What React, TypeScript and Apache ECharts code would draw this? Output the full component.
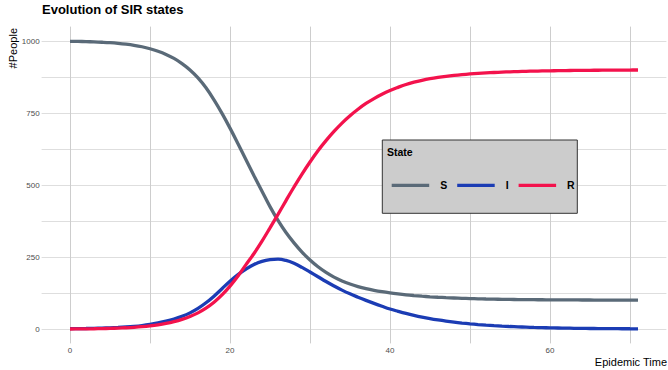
import React, { useEffect, useRef } from "react";
import * as echarts from "echarts";

const TIME = [0, 1, 2, 3, 4, 5, 6, 7, 8, 9, 10, 11, 12, 13, 14, 15, 16, 17, 18, 19, 20, 21, 22, 23, 24, 25, 26, 27, 28, 29, 30, 31, 32, 33, 34, 35, 36, 37, 38, 39, 40, 41, 42, 43, 44, 45, 46, 47, 48, 49, 50, 51, 52, 53, 54, 55, 56, 57, 58, 59, 60, 61, 62, 63, 64, 65, 66, 67, 68, 69, 70, 71];

const S_VALUES = [999, 998.5, 997.8, 996.9, 995.6, 994, 991.8, 988.9, 985.1, 980, 973.2, 964.5, 953.5, 939.5, 921.5, 899.5, 872, 837.5, 795.5, 748.5, 697.5, 643.5, 588, 532.5, 478.5, 425, 377, 335, 299, 267, 239.5, 216, 196.5, 180.2, 167, 156.2, 147.4, 140.2, 134.3, 129.4, 125.3, 121.8, 118.7, 116.1, 113.8, 111.9, 110.2, 108.8, 107.6, 106.5, 105.6, 104.8, 104.1, 103.6, 103.1, 102.7, 102.3, 102, 101.7, 101.5, 101.3, 101.1, 101, 100.85, 100.73, 100.63, 100.54, 100.46, 100.4, 100.34, 100.29, 100.25];

const I_VALUES = [1, 1.32, 1.74, 2.3, 3.03, 4, 5.3, 7, 9.2, 12.1, 16, 21, 27, 34.5, 44, 56, 71.5, 91, 114, 140, 166, 189, 208, 224, 235, 241, 242.5, 238, 228, 214, 198, 181.5, 165, 149.5, 135, 122, 110.5, 99.5, 89, 79, 69.5, 61.5, 54, 47.3, 41.3, 36, 31.4, 27.3, 23.7, 20.6, 17.9, 15.5, 13.4, 11.6, 10, 8.6, 7.4, 6.4, 5.5, 4.7, 4, 3.4, 2.9, 2.5, 2.1, 1.8, 1.55, 1.3, 1.1, 0.95, 0.8, 0.7];

const R_VALUES = [0, 0.23, 0.53, 0.93, 1.46, 2.16, 3.06, 4.26, 5.86, 7.96, 10.8, 14.5, 19.3, 25.5, 33.4, 43.4, 56.1, 72.3, 92.8, 118.2, 148.8, 184, 223.5, 262, 305, 351, 398, 446, 493, 538, 580, 619, 654, 686, 715, 740.5, 763, 783, 800, 815, 828, 839, 849, 857, 863.5, 869, 873.5, 877.3, 880.5, 883.2, 885.5, 887.5, 889.2, 890.7, 891.9, 893, 893.9, 894.7, 895.4, 896, 896.5, 896.9, 897.3, 897.7, 898, 898.3, 898.5, 898.7, 898.9, 899.1, 899.2, 899.3];

const STATES = ["S", "I", "R"];
const COLORS = ["#5a6a78", "#1b3cb4", "#f3124c"];
const X_LABELS = [0, 20, 40, 60];
const X_GRID = [0, 10, 20, 30, 40, 50, 60, 70];
const Y_LABELS = [0, 250, 500, 750, 1000];
const Y_GRID = [0, 125, 250, 375, 500, 625, 750, 875, 1000];

const FONT = "'Liberation Sans', Arial, Helvetica, sans-serif";

export default function App() {
  const ref = useRef<HTMLDivElement>(null);
  useEffect(() => {
    if (!ref.current) return;
    const chart = echarts.init(ref.current, null, { renderer: "svg" });
    const valuesList = [S_VALUES, I_VALUES, R_VALUES];
    const series = STATES.map((name, k) => ({
      name,
      type: "line",
      data: valuesList[k].map((v, i) => [TIME[i], v]),
      symbol: "none",
      showSymbol: false,
      smooth: 0.4,
      lineStyle: { color: COLORS[k], width: 3.3, cap: "butt" },
      itemStyle: { color: COLORS[k] },
      z: 3 + k,
    }));
    chart.setOption({
      animation: false,
      backgroundColor: "#ffffff",
      textStyle: { fontFamily: FONT },
      title: {
        text: "Evolution of SIR states",
        left: 42,
        top: 3,
        padding: 0,
        textStyle: { fontSize: 13, fontWeight: "bold", color: "#000000", fontFamily: FONT },
      },
      grid: { left: 41.6, right: 1.6, top: 26.6, bottom: 26.6, containLabel: false },
      xAxis: {
        type: "value",
        min: -3.55,
        max: 74.55,
        axisLine: { show: false },
        axisTick: { show: false, customValues: X_GRID },
        axisLabel: {
          customValues: X_LABELS,
          formatter: (v: number) => String(v),
          color: "#4d4d4d",
          fontSize: 8,
          margin: 3,
          fontFamily: FONT,
        },
        splitLine: { show: true, lineStyle: { color: "#cdcdcd", width: 1 } },
      },
      yAxis: {
        type: "value",
        min: -50,
        max: 1050,
        axisLine: { show: false },
        axisTick: { show: false, customValues: Y_GRID },
        axisLabel: {
          customValues: Y_LABELS,
          formatter: (v: number) => String(v),
          color: "#4d4d4d",
          fontSize: 8,
          margin: 2,
          fontFamily: FONT,
        },
        splitLine: { show: true, lineStyle: { color: "#dedede", width: 1 } },
      },
      legend: {
        data: STATES.map((name) => ({ name, icon: "rect" })),
        left: 391.7,
        top: 179.8,
        padding: 0,
        itemWidth: 37.5,
        itemHeight: 3.3,
        itemGap: 10,
        textStyle: {
          fontSize: 10.5,
          fontWeight: "bold",
          color: "#000000",
          fontFamily: FONT,
          padding: [0, 0, 0, 6],
        },
        z: 20,
      },
      graphic: [
        {
          type: "rect",
          shape: { x: 382.3, y: 140, width: 195, height: 73.3 },
          style: { fill: "#cccccc", stroke: "#333333", lineWidth: 1 },
          z: 10,
        },
        {
          type: "text",
          x: 387,
          y: 152,
          style: {
            text: "State",
            font: `bold 10.5px ${FONT}`,
            fill: "#000000",
            verticalAlign: "middle",
            align: "left",
          },
          z: 11,
        },
        {
          type: "text",
          x: 13,
          y: 28,
          rotation: Math.PI / 2,
          style: {
            text: "#People",
            font: `11px ${FONT}`,
            fill: "#000000",
            align: "right",
            verticalAlign: "middle",
          },
          z: 11,
        },
        {
          type: "text",
          x: 667,
          y: 362,
          style: {
            text: "Epidemic Time",
            font: `11px ${FONT}`,
            fill: "#000000",
            align: "right",
            verticalAlign: "middle",
          },
          z: 11,
        },
      ],
      series,
    });
    return () => chart.dispose();
  }, []);
  return (
    <div
      ref={ref}
      style={{ position: "fixed", left: 0, top: 0, width: 668, height: 370 }}
    />
  );
}
